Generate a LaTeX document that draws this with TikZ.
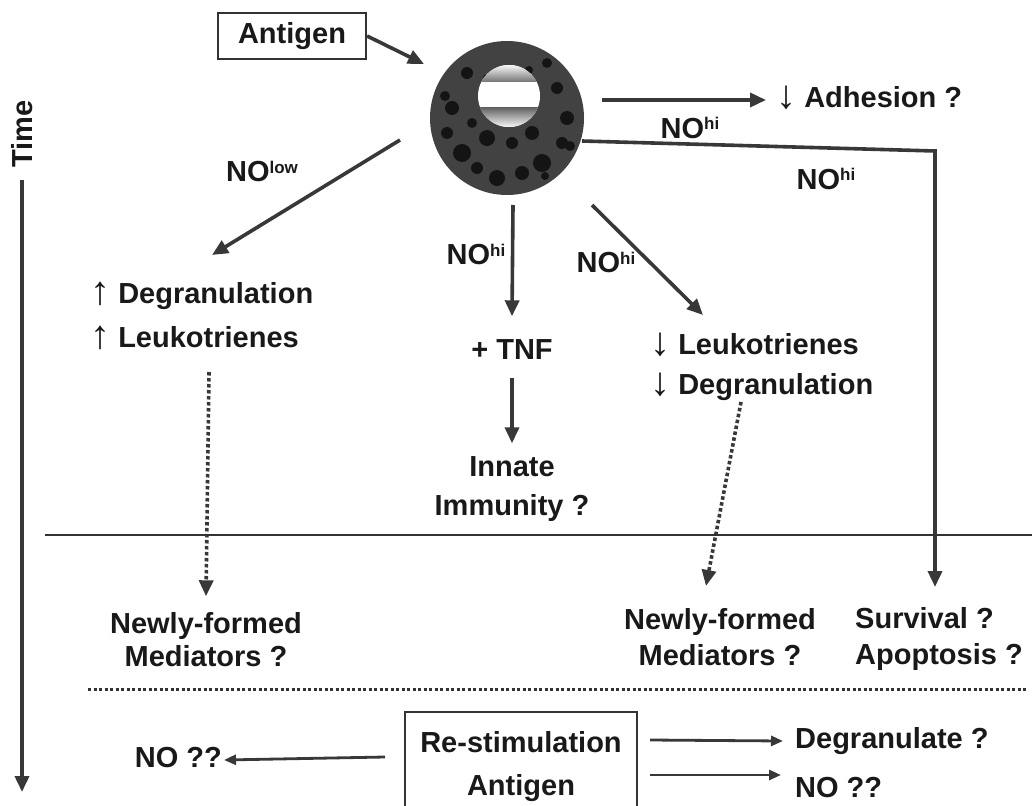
\documentclass[tikz,border=0pt]{standalone}
\usepackage{fontspec}
\setmainfont{Liberation Sans}
\usetikzlibrary{arrows.meta}

\newcommand{\nolev}[1]{NO\raisebox{8.5pt}{\fontsize{17}{17}\selectfont #1}}
\newcommand{\uparr}{\raisebox{-1pt}{\fontsize{40}{40}\selectfont\mdseries ↑}}
\newcommand{\dnarr}{\raisebox{-1pt}{\fontsize{40}{40}\selectfont\mdseries ↓}}

\tikzset{
  lbl/.style={font=\fontsize{29}{34}\selectfont\bfseries, text=black!90, inner sep=0pt, text height=21pt, text depth=6pt},
  arr/.style={draw=black!78, line width=3.6pt, -{Triangle[length=16pt,width=14pt]}},
  dotarr/.style={arr, dash pattern=on 3.5pt off 2.5pt},
  thinarr/.style={draw=black!78, line width=2.8pt, -{Triangle[length=12pt,width=10pt]}},
  boxed/.style={draw=black!80, line width=2.2pt},
}

\begin{document}
\begin{tikzpicture}[x=1pt,y=1pt,yscale=-1]
\useasboundingbox (0,0) rectangle (1032,805);

% time axis
\node[lbl, rotate=90] (time) at (25,134) {Time};
\coordinate (timeTop) at (22,180);
\coordinate (timeEnd) at (22,792);
\draw[arr] (timeTop) -- (timeEnd);

% mast cell with granules and nucleus
\node[circle, fill=black!74, minimum size=154pt, inner sep=0pt] (cell) at (507,118) {};
\foreach \dx/\dy/\r in {-55/-10/7, -60/15/6, -45/35/9, -30/50/6, -10/60/8, 15/55/7, 35/45/9,
    55/25/6, 60/0/7, 50/-30/6, 40/-55/5, -40/-45/6, -20/20/8, 5/25/6, 25/15/7, -35/5/5,
    -62/-22/5, 63/28/5, 38/58/4, -20/-40/4, 22/-48/4}
  \fill[black!92] (507+\dx,118+\dy) circle (\r);
\begin{scope}
  \clip (509,96) circle (31);
  \fill[white] (478,65) rectangle (540,127);
  \shade[top color=white, bottom color=black!55] (478,64) rectangle (540,82);
  \shade[top color=black!60, bottom color=white] (478,108) rectangle (540,128);
\end{scope}

% stimulus
\node[lbl, boxed, minimum width=148pt, minimum height=46pt] (antigen) at (292,36) {Antigen};
\coordinate (agEnd) at (424,64);
\draw[arr] (antigen.east) -- (agEnd);

% adhesion
\coordinate (adhS) at (602,100);
\node[lbl, anchor=west] (adh) at (776,100) {\dnarr\ Adhesion ?};
\draw[arr] (adhS) -- ([xshift=-10pt]adh.west);
\node[lbl] (noAdh) at (690,131) {\nolev{hi}};

% low NO branch
\coordinate (lowS) at (400,140);
\coordinate (lowE) at (212,255);
\draw[arr] (lowS) -- (lowE);
\node[lbl] (noLow) at (262,174) {\nolev{low}};
\node[lbl, anchor=west] (upDeg) at (90,296) {\uparr\ Degranulation};
\node[lbl, anchor=west] (upLeu) at (90,340) {\uparr\ Leukotrienes};
\coordinate (lowDotS) at (209,372);
\node[lbl] (nfA) at (206,626) {Newly-formed};
\node[lbl] (nfB) at (206,659) {Mediators ?};
\draw[dotarr] (lowDotS) -- ([yshift=-16pt]nfA.north);

% TNF branch
\coordinate (tnfS) at (513,205);
\node[lbl] (tnf) at (512,352) {+ TNF};
\draw[arr] (tnfS) -- ([yshift=-22pt]tnf.north);
\node[lbl] (noTnf) at (476,257) {\nolev{hi}};
\node[lbl] (innA) at (512,469) {Innate};
\node[lbl] (innB) at (512,508) {Immunity ?};
\draw[arr] ([yshift=12pt]tnf.south) -- ([yshift=-12pt]innA.north);

% high NO inhibition
\coordinate (hiS) at (592,205);
\coordinate (hiE) at (703,315);
\draw[arr] (hiS) -- (hiE);
\node[lbl] (noHi) at (606,265) {\nolev{hi}};
\node[lbl, anchor=west] (dnLeu) at (650,347) {\dnarr\ Leukotrienes};
\node[lbl, anchor=west] (dnDeg) at (650,387) {\dnarr\ Degranulation};
\coordinate (hiDotS) at (741,402);
\node[lbl] (nfC) at (720,622) {Newly-formed};
\node[lbl] (nfD) at (720,658) {Mediators ?};
\draw[dotarr] (hiDotS) -- (706,586);

% survival branch
\coordinate (svS) at (582,141);
\coordinate (svK) at (935,151);
\node[lbl, anchor=west] (svA) at (855,621) {Survival ?};
\node[lbl, anchor=west] (svB) at (855,657) {Apoptosis ?};
\draw[arr] (svS) -- (svK) -- (svK |- 0,587);
\node[lbl] (noSv) at (826,182) {\nolev{hi}};

% time separators
\draw[line width=2pt, black!80] (45,535) -- (1032,535);
\draw[line width=3pt, black!80, dash pattern=on 3pt off 2.5pt] (88,689) -- (1026,689);

% re-stimulation
\node[boxed, minimum width=232pt, minimum height=130pt, anchor=north] (rebox) at (521,711) {};
\node[lbl] (reA) at (521,745) {Re-stimulation};
\node[lbl] (reB) at (521,788) {Antigen};
\node[lbl, anchor=east] (noL) at (222,760) {NO ??};
\node[lbl, anchor=west] (degR) at (795,741) {Degranulate ?};
\node[lbl, anchor=west] (noR) at (795,790) {NO ??};
\draw[thinarr] (385,757) -- ([xshift=2pt]noL.east);
\draw[thinarr] (650,740) -- ([xshift=-12pt]degR.west);
\draw[thinarr] (650,775) -- ([xshift=-14pt]noR.west |- 0,775);
\end{tikzpicture}
\end{document}
